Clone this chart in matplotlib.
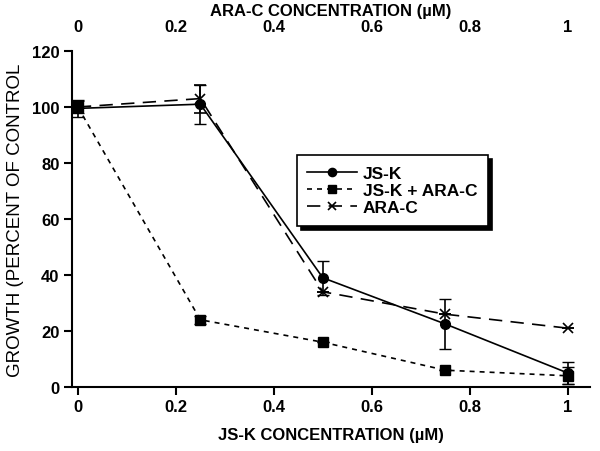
import matplotlib
matplotlib.use("Agg")
import matplotlib.pyplot as plt
import numpy as np

plt.rcParams['font.family'] = ['Liberation Sans', 'DejaVu Sans']

conc = [0, 0.25, 0.5, 0.75, 1]
jsk = [99.5, 101, 39, 22.5, 5]
jsk_err = [3, 7, 6, 9, 4]
combo = [100, 24, 16, 6, 4]
combo_err = [2, 1.5, 0, 0, 3]
arac = [100, 103, 34, 26, 21]
arac_err = [2, 5, 0, 0, 0]
xticks = [0, 0.2, 0.4, 0.6, 0.8, 1]
xticklabels = ['0', '0.2', '0.4', '0.6', '0.8', '1']
yticks = [0, 20, 40, 60, 80, 100, 120]

fig = plt.figure(figsize=(6, 4.52), dpi=100)
ax = fig.add_axes([0.12, 0.1416, 0.863, 0.7434])

e1 = ax.errorbar(conc, jsk, yerr=jsk_err, color='black', marker='o', ms=7,
                 lw=1.2, capsize=4, elinewidth=1.2, label='JS-K', zorder=3)
e2 = ax.errorbar(conc, combo, yerr=combo_err, color='black', marker='s', ms=6.5,
                 lw=1.2, ls=(0, (3, 3)), capsize=4, elinewidth=1.2,
                 label='JS-K + ARA-C', zorder=3)
e3 = ax.errorbar(conc, arac, yerr=arac_err, color='black', marker='x', ms=7,
                 mew=1.2, lw=1.2, ls=(0, (8, 5)), capsize=4, elinewidth=1.2,
                 label='ARA-C', zorder=3)

ax.set_xlim(-0.012, 1.045)
ax.set_ylim(0, 120)
ax.set_xticks(xticks)
ax.set_xticklabels(xticklabels, fontweight='bold', fontsize=12)
ax.set_yticks(yticks)
ax.set_yticklabels([str(v) for v in yticks], fontweight='bold', fontsize=12)
ax.tick_params(direction='out', length=6, width=1.5, pad=3)
for s in ['top', 'right']:
    ax.spines[s].set_visible(False)
for s in ['left', 'bottom']:
    ax.spines[s].set_linewidth(1.5)

ax.set_xlabel('JS-K CONCENTRATION (\u00b5M)', fontweight='bold', fontsize=12, labelpad=9)
ax.set_ylabel('GROWTH (PERCENT OF CONTROL', fontsize=13.5)
ax.yaxis.set_label_coords(-0.092, 0.5)

top = ax.secondary_xaxis('top')
top.set_xticks(xticks)
top.set_xticklabels(xticklabels, fontweight='bold', fontsize=12)
top.tick_params(length=0, pad=12)
top.spines['top'].set_visible(False)
top.set_xlabel('ARA-C CONCENTRATION (\u00b5M)', fontweight='bold', fontsize=12, labelpad=3)

leg = ax.legend(handles=[e1[0], e2[0], e3[0]], labels=['JS-K', 'JS-K + ARA-C', 'ARA-C'],
                loc='upper left', bbox_to_anchor=(0.434, 0.690), frameon=True,
                fancybox=False, shadow={'color': 'black', 'alpha': 1, 'ox': 3, 'oy': -3},
                prop={'weight': 'bold', 'size': 12.5}, handlelength=2.9,
                handletextpad=0.3, labelspacing=0.12, borderpad=0.6,
                borderaxespad=0, markerscale=0.85)
leg.get_frame().set_edgecolor('black')
leg.get_frame().set_linewidth(1.2)

fig.savefig('out.png', dpi=100)
